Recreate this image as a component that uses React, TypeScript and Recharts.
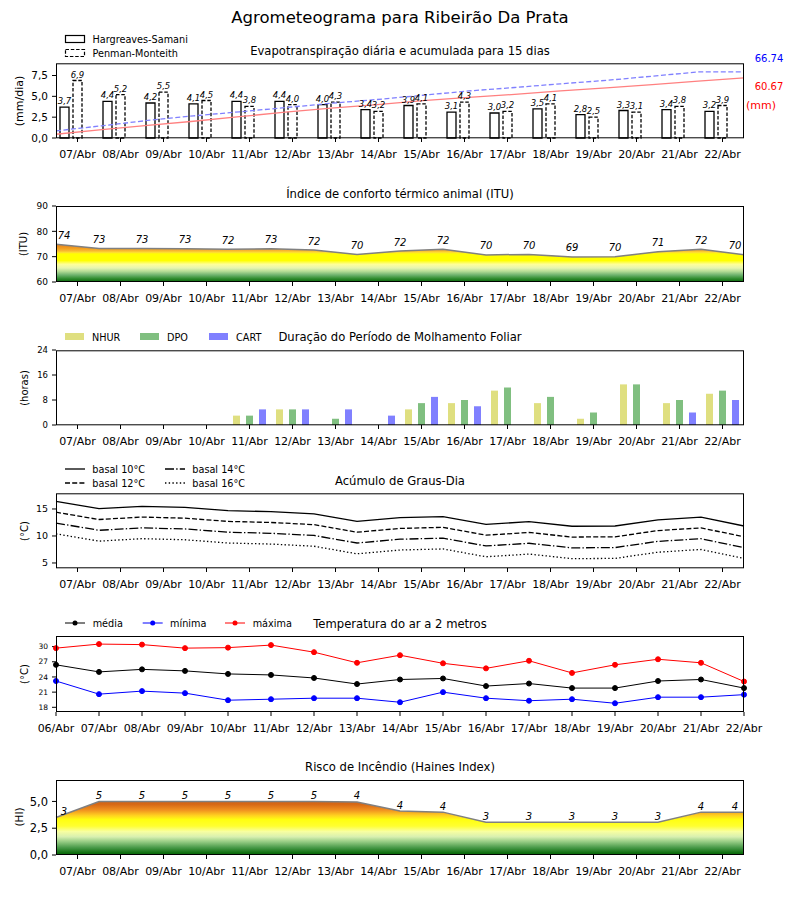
import { Area, Bar, ComposedChart, LabelList, Line, XAxis, YAxis } from "recharts"

const days = ["07/Abr", "08/Abr", "09/Abr", "10/Abr", "11/Abr", "12/Abr", "13/Abr", "14/Abr", "15/Abr", "16/Abr", "17/Abr", "18/Abr", "19/Abr", "20/Abr", "21/Abr", "22/Abr"]
const tempDays = ["06/Abr", ...days]

// evapotranspiração diária (mm/dia) e acumulada (mm)
const etHargreaves = [3.7, 4.4, 4.2, 4.1, 4.4, 4.4, 4.0, 3.4, 3.9, 3.1, 3.0, 3.5, 2.8, 3.3, 3.4, 3.2]
const etPenman = [6.9, 5.2, 5.5, 4.5, 3.8, 4.0, 4.3, 3.2, 4.1, 4.3, 3.2, 4.1, 2.5, 3.1, 3.8, 3.9]
const cumHargreaves = [3.8, 8.4, 12.7, 16.9, 21.5, 26.0, 30.1, 33.6, 37.7, 40.9, 44.0, 47.6, 50.5, 53.9, 57.4, 60.67]
const cumPenman = [7.2, 12.3, 17.7, 22.3, 26.4, 30.6, 35.0, 38.8, 43.1, 47.4, 50.9, 54.6, 58.1, 62.3, 66.6, 66.74]

// ITU, pontos nas divisas entre dias
const itu = [74.9, 73.2, 73.2, 73.1, 72.9, 73.1, 72.6, 70.9, 72.2, 72.9, 70.7, 70.9, 69.9, 70.0, 71.9, 72.9, 70.8]

// molhamento foliar (horas)
const nhur = [0, 0, 0, 0, 3, 5, 0, 0, 5, 7, 11, 7, 2, 13, 7, 10]
const dpo = [0, 0, 0, 0, 3, 5, 2, 0, 7, 8, 12, 9, 4, 13, 8, 11]
const cart = [0, 0, 0, 0, 5, 5, 5, 3, 9, 6, 0, 0, 0, 0, 4, 8]

// graus-dia
const basal10 = [16.4, 15.05, 15.5, 15.3, 14.7, 14.5, 14.1, 12.7, 13.4, 13.6, 12.15, 12.65, 11.8, 11.85, 13.0, 13.5, 11.85]
const basal12 = [14.4, 13.05, 13.5, 13.3, 12.7, 12.5, 12.1, 10.7, 11.4, 11.6, 10.15, 10.65, 9.8, 9.85, 11.0, 11.5, 9.85]
const basal14 = [12.4, 11.05, 11.5, 11.3, 10.7, 10.5, 10.1, 8.7, 9.4, 9.6, 8.15, 8.65, 7.8, 7.85, 9.0, 9.5, 7.85]
const basal16 = [10.4, 9.05, 9.5, 9.3, 8.7, 8.5, 8.1, 6.7, 7.4, 7.6, 6.15, 6.65, 5.8, 5.85, 7.0, 7.5, 5.85]

// temperatura do ar (°C)
const tMedia = [26.4, 25.0, 25.5, 25.2, 24.6, 24.4, 23.8, 22.6, 23.5, 23.7, 22.2, 22.7, 21.8, 21.8, 23.2, 23.5, 21.8]
const tMinima = [23.2, 20.6, 21.2, 20.8, 19.4, 19.6, 19.8, 19.8, 19.0, 21.0, 19.8, 19.3, 19.6, 18.8, 20.0, 20.0, 20.5]
const tMaxima = [29.7, 30.5, 30.4, 29.7, 29.8, 30.3, 28.9, 26.8, 28.3, 26.7, 25.7, 27.2, 24.8, 26.4, 27.5, 26.8, 23.1]

// Haines
const haines = [3.5, 5.0, 5.0, 5.0, 5.0, 5.0, 5.0, 4.95, 4.1, 4.0, 3.05, 3.05, 3.05, 3.05, 3.05, 4.0, 4.0]

const ituColors = [
  [76, "#d2641a"], [74.5, "#e8861c"], [73.2, "#f3a020"], [72.3, "#f8b830"], [71.6, "#ffe030"], [71.1, "#ffff00"],
  [68.5, "#ffff00"], [67, "#ffff99"], [65.5, "#e6f5b0"], [64.2, "#b4dc96"], [62.8, "#6fb36f"], [61.3, "#2e8b2e"], [60, "#0a640a"],
] as const
const hiColors = [
  [5.2, "#cc5a10"], [4.7, "#d86a16"], [4.2, "#f09020"], [3.7, "#ffd020"], [3.3, "#ffff10"], [2.7, "#ffff30"],
  [2.2, "#f8ffa0"], [1.7, "#d8f0b0"], [1.2, "#90c880"], [0.7, "#4a9a4a"], [0.2, "#107010"], [0, "#0a640a"],
] as const

const etRows = days.map((day, i) => ({ day, idx: i, hs: etHargreaves[i], pm: etPenman[i], hsCum: cumHargreaves[i], pmCum: cumPenman[i] }))
const ituRows = itu.map((v, i) => ({ x: i - 0.5, v }))
const wetRows = days.map((day, i) => ({ day, nhur: nhur[i], dpo: dpo[i], cart: cart[i] }))
const gdRows = basal10.map((v, i) => ({ x: i - 0.5, b10: v, b12: basal12[i], b14: basal14[i], b16: basal16[i] }))
const tempRows = tMedia.map((v, i) => ({ x: i, med: v, min: tMinima[i], max: tMaxima[i] }))
const hiRows = haines.map((v, i) => ({ x: i - 0.5, v }))

const PL = 56
const PW = 688
const MT = 10
const XH = 30
const margin = { top: MT, right: 56, bottom: 0, left: 6 }
const dayTicks = days.map((_, i) => i)
const tempTicks = tempDays.map((_, i) => i)

const comma = (v: number) => v.toFixed(1).replace(".", ",")
const xTick = { fill: "#000", fontSize: 11 }
const tl = { stroke: "#000" }
const subFs = 11.6

const barLabel = (props: any) => {
  const { x, y, width, value } = props
  return (
    <text x={x + width / 2} y={y - 3} textAnchor="middle" fontSize={8.5} fontStyle="italic" fill="#000">
      {comma(value)}
    </text>
  )
}

const pointLabel = (dy: number, fs: number) => (props: any) => {
  const { x, y, value } = props
  let dx = 0
  if (x < PL + 2) dx = 8
  if (x > PL + PW - 2) dx = -9
  return (
    <text x={x + dx} y={y - dy} textAnchor="middle" fontSize={fs} fontStyle="italic" fill="#000">
      {Math.floor(value + 1e-9)}
    </text>
  )
}

function gradStops(colors: readonly (readonly [number, string])[], lo: number, hi: number) {
  return colors.map(([v, c]) => <stop key={v} offset={(hi - v) / (hi - lo)} stopColor={c} />)
}

const box = (top: number, h: number) => (
  <rect x={PL + 0.5} y={top + 0.5} width={PW - 1} height={h - 1} fill="none" stroke="#000" strokeWidth={1} />
)

export default function App() {
  const wrap = (top: number) => ({ position: "absolute" as const, left: 0, top: top - MT })
  return (
    <div style={{ position: "absolute", left: 0, top: 0, width: 800, height: 900, background: "#fff", fontFamily: "DejaVu Sans" }}>
      {/* 1. evapotranspiração */}
      <div style={wrap(63.3)}>
        <ComposedChart width={800} height={MT + 75 + XH} data={etRows} margin={margin} barSize={9} barGap={4}>
          <XAxis xAxisId="cat" dataKey="day" interval={0} tick={xTick} tickLine={tl} axisLine={false} tickSize={4} tickMargin={8} height={XH} />
          <XAxis xAxisId="num" dataKey="idx" type="number" domain={[0, 15]} hide />
          <YAxis yAxisId="l" domain={[0, 9]} ticks={[0, 2.5, 5, 7.5]} interval={0} tickFormatter={comma} width={50} tick={{ fill: "#000", fontSize: 10.5 }} tickLine={tl} axisLine={false} tickSize={4} tickMargin={4} />
          <YAxis yAxisId="r" orientation="right" domain={[0, 75.6]} hide />
          <Bar xAxisId="cat" yAxisId="l" dataKey="hs" fill="#fff" stroke="#000" strokeWidth={1.3} isAnimationActive={false}>
            <LabelList dataKey="hs" content={barLabel} />
          </Bar>
          <Bar xAxisId="cat" yAxisId="l" dataKey="pm" fill="#fff" stroke="#000" strokeWidth={1.3} strokeDasharray="3.5 1.8" isAnimationActive={false}>
            <LabelList dataKey="pm" content={barLabel} />
          </Bar>
          <Bar xAxisId="cat" yAxisId="l" dataKey="gap" fill="none" isAnimationActive={false} />
          <Line xAxisId="num" yAxisId="r" dataKey="hsCum" type="linear" stroke="#ff8080" strokeWidth={1.3} dot={false} isAnimationActive={false} />
          <Line xAxisId="num" yAxisId="r" dataKey="pmCum" type="linear" stroke="#8080ff" strokeWidth={1.3} strokeDasharray="5 2.5" dot={false} isAnimationActive={false} />
        </ComposedChart>
      </div>

      {/* 2. ITU */}
      <div style={wrap(206)}>
        <ComposedChart width={800} height={MT + 76 + XH} data={ituRows} margin={margin}>
          <defs>
            <linearGradient id="ituGrad" gradientUnits="userSpaceOnUse" x1={0} y1={MT} x2={0} y2={MT + 76}>
              {gradStops(ituColors, 60, 90)}
            </linearGradient>
          </defs>
          <XAxis dataKey="x" type="number" domain={[-0.5, 15.5]} ticks={dayTicks} interval={0} tickFormatter={(v) => days[Math.round(v)]} tick={xTick} tickLine={tl} axisLine={false} tickSize={4} tickMargin={8} height={XH} />
          <YAxis domain={[60, 90]} ticks={[60, 70, 80, 90]} interval={0} width={50} tick={{ fill: "#000", fontSize: 9 }} tickLine={tl} axisLine={false} tickSize={4} tickMargin={4} />
          <Area dataKey="v" type="linear" baseValue={60} stroke="#808080" strokeWidth={1.5} fill="url(#ituGrad)" fillOpacity={1} isAnimationActive={false}>
            <LabelList dataKey="v" content={pointLabel(5.5, 10)} />
          </Area>
        </ComposedChart>
      </div>

      {/* 3. molhamento foliar */}
      <div style={wrap(350.3)}>
        <ComposedChart width={800} height={MT + 75 + XH} data={wetRows} margin={margin} barSize={7} barGap={6}>
          <XAxis dataKey="day" interval={0} tick={xTick} tickLine={tl} axisLine={false} tickSize={4} tickMargin={8} height={XH} />
          <YAxis domain={[0, 24]} ticks={[0, 8, 16, 24]} interval={0} width={50} tick={{ fill: "#000", fontSize: 8.5 }} tickLine={tl} axisLine={false} tickSize={4} tickMargin={4} />
          <Bar dataKey="nhur" fill="#dfdf80" isAnimationActive={false} />
          <Bar dataKey="dpo" fill="#80bf80" isAnimationActive={false} />
          <Bar dataKey="cart" fill="#8080ff" isAnimationActive={false} />
        </ComposedChart>
      </div>

      {/* 4. graus-dia */}
      <div style={wrap(493.3)}>
        <ComposedChart width={800} height={MT + 75 + XH} data={gdRows} margin={margin}>
          <XAxis dataKey="x" type="number" domain={[-0.5, 15.5]} ticks={dayTicks} interval={0} tickFormatter={(v) => days[Math.round(v)]} tick={xTick} tickLine={tl} axisLine={false} tickSize={4} tickMargin={8} height={XH} />
          <YAxis domain={[4.07, 17.96]} ticks={[5, 10, 15]} interval={0} width={50} tick={{ fill: "#000", fontSize: 9.5 }} tickLine={tl} axisLine={false} tickSize={4} tickMargin={4} />
          <Line dataKey="b10" type="linear" stroke="#000" strokeWidth={1.3} dot={false} isAnimationActive={false} />
          <Line dataKey="b12" type="linear" stroke="#000" strokeWidth={1.3} strokeDasharray="5 2.2" dot={false} isAnimationActive={false} />
          <Line dataKey="b14" type="linear" stroke="#000" strokeWidth={1.3} strokeDasharray="9 2.2 1.4 2.2" dot={false} isAnimationActive={false} />
          <Line dataKey="b16" type="linear" stroke="#000" strokeWidth={1.3} strokeDasharray="1.4 2.3" dot={false} isAnimationActive={false} />
        </ComposedChart>
      </div>

      {/* 5. temperatura */}
      <div style={wrap(636)}>
        <ComposedChart width={800} height={MT + 76 + XH} data={tempRows} margin={margin}>
          <XAxis dataKey="x" type="number" domain={[0, 16]} ticks={tempTicks} interval={0} tickFormatter={(v) => tempDays[Math.round(v)]} tick={xTick} tickLine={tl} axisLine={false} tickSize={4} tickMargin={8} height={XH} />
          <YAxis domain={[17.07, 32.1]} ticks={[18, 21, 24, 27, 30]} interval={0} width={50} tick={{ fill: "#000", fontSize: 7.5 }} tickLine={tl} axisLine={false} tickSize={4} tickMargin={4} />
          <Line dataKey="med" type="linear" stroke="#000" strokeWidth={1} dot={{ r: 2.5, fill: "#000", stroke: "#000" }} isAnimationActive={false} />
          <Line dataKey="min" type="linear" stroke="#0000ff" strokeWidth={1} dot={{ r: 2.5, fill: "#0000ff", stroke: "#0000ff" }} isAnimationActive={false} />
          <Line dataKey="max" type="linear" stroke="#ff0000" strokeWidth={1} dot={{ r: 2.5, fill: "#ff0000", stroke: "#ff0000" }} isAnimationActive={false} />
        </ComposedChart>
      </div>

      {/* 6. Haines */}
      <div style={wrap(780)}>
        <ComposedChart width={800} height={MT + 75 + XH} data={hiRows} margin={margin}>
          <defs>
            <linearGradient id="hiGrad" gradientUnits="userSpaceOnUse" x1={0} y1={MT} x2={0} y2={MT + 75}>
              {gradStops(hiColors, 0, 7)}
            </linearGradient>
          </defs>
          <XAxis dataKey="x" type="number" domain={[-0.5, 15.5]} ticks={dayTicks} interval={0} tickFormatter={(v) => days[Math.round(v)]} tick={xTick} tickLine={tl} axisLine={false} tickSize={4} tickMargin={8} height={XH} />
          <YAxis domain={[0, 7]} ticks={[0, 2.5, 5]} interval={0} tickFormatter={comma} width={50} tick={{ fill: "#000", fontSize: 11.5 }} tickLine={tl} axisLine={false} tickSize={4} tickMargin={4} />
          <Area dataKey="v" type="linear" baseValue={0} stroke="#808080" strokeWidth={1.5} fill="url(#hiGrad)" fillOpacity={1} isAnimationActive={false}>
            <LabelList dataKey="v" content={pointLabel(2.5, 10)} />
          </Area>
        </ComposedChart>
      </div>

      {/* textos, legendas e molduras */}
      <svg width={800} height={900} style={{ position: "absolute", left: 0, top: 0, pointerEvents: "none" }} fontFamily="DejaVu Sans">
        {box(63.3, 75)}
        {box(206, 76)}
        {box(350.3, 75)}
        {box(493.3, 75)}
        {box(636, 76)}
        {box(780, 75)}

        <text x={400} y={17} textAnchor="middle" dominantBaseline="central" fontSize={16.5}>Agrometeograma para Ribeirão Da Prata</text>

        <text x={400} y={51} textAnchor="middle" dominantBaseline="central" fontSize={subFs}>Evapotranspiração diária e acumulada para 15 dias</text>
        <text x={400} y={194} textAnchor="middle" dominantBaseline="central" fontSize={subFs}>Índice de conforto térmico animal (ITU)</text>
        <text x={400} y={337} textAnchor="middle" dominantBaseline="central" fontSize={subFs}>Duração do Período de Molhamento Foliar</text>
        <text x={400} y={481} textAnchor="middle" dominantBaseline="central" fontSize={subFs}>Acúmulo de Graus-Dia</text>
        <text x={400} y={624} textAnchor="middle" dominantBaseline="central" fontSize={subFs}>Temperatura do ar a 2 metros</text>
        <text x={400} y={767} textAnchor="middle" dominantBaseline="central" fontSize={subFs}>Risco de Incêndio (Haines Index)</text>

        <text transform="translate(19,101) rotate(-90)" textAnchor="middle" dominantBaseline="central" fontSize={11}>(mm/dia)</text>
        <text transform="translate(23.5,244) rotate(-90)" textAnchor="middle" dominantBaseline="central" fontSize={10}>(ITU)</text>
        <text transform="translate(24,388) rotate(-90)" textAnchor="middle" dominantBaseline="central" fontSize={10}>(horas)</text>
        <text transform="translate(24,531) rotate(-90)" textAnchor="middle" dominantBaseline="central" fontSize={10}>(°C)</text>
        <text transform="translate(24,674) rotate(-90)" textAnchor="middle" dominantBaseline="central" fontSize={10}>(°C)</text>
        <text transform="translate(19,817) rotate(-90)" textAnchor="middle" dominantBaseline="central" fontSize={10.5}>(HI)</text>

        <text x={769} y={58} textAnchor="middle" dominantBaseline="central" fontSize={10} fill="#0000ff">66.74</text>
        <text x={769} y={86} textAnchor="middle" dominantBaseline="central" fontSize={10} fill="#ff0000">60.67</text>
        <text x={761} y={105} textAnchor="middle" dominantBaseline="central" fontSize={11} fill="#ff0000">(mm)</text>

        {/* legenda evapotranspiração */}
        <rect x={65.5} y={35.5} width={19} height={7} fill="#fff" stroke="#000" strokeWidth={1.2} />
        <rect x={65.5} y={49.5} width={19} height={7} fill="#fff" stroke="#000" strokeWidth={1.2} strokeDasharray="3.5 1.8" />
        <text x={92.5} y={39} dominantBaseline="central" fontSize={9.7}>Hargreaves-Samani</text>
        <text x={92.5} y={53} dominantBaseline="central" fontSize={9.7}>Penman-Monteith</text>

        {/* legenda molhamento */}
        <rect x={65} y={333} width={19} height={7} fill="#dfdf80" />
        <rect x={140} y={333} width={19} height={7} fill="#80bf80" />
        <rect x={209} y={333} width={19} height={7} fill="#8080ff" />
        <text x={92} y={337} dominantBaseline="central" fontSize={9.7}>NHUR</text>
        <text x={167} y={337} dominantBaseline="central" fontSize={9.7}>DPO</text>
        <text x={236} y={337} dominantBaseline="central" fontSize={9.7}>CART</text>

        {/* legenda graus-dia */}
        <line x1={65} y1={469} x2={85} y2={469} stroke="#000" strokeWidth={1.3} />
        <line x1={65} y1={483} x2={85} y2={483} stroke="#000" strokeWidth={1.3} strokeDasharray="5 2.2" />
        <line x1={165} y1={469} x2={185} y2={469} stroke="#000" strokeWidth={1.3} strokeDasharray="9 2.2 1.4 2.2" />
        <line x1={165} y1={483} x2={185} y2={483} stroke="#000" strokeWidth={1.3} strokeDasharray="1.4 2.3" />
        <text x={92.3} y={469} dominantBaseline="central" fontSize={9.7}>basal 10°C</text>
        <text x={92.3} y={483} dominantBaseline="central" fontSize={9.7}>basal 12°C</text>
        <text x={192.3} y={469} dominantBaseline="central" fontSize={9.7}>basal 14°C</text>
        <text x={192.3} y={483} dominantBaseline="central" fontSize={9.7}>basal 16°C</text>

        {/* legenda temperatura */}
        <line x1={65} y1={623} x2={85} y2={623} stroke="#000" strokeWidth={1} />
        <circle cx={75} cy={623} r={2.5} fill="#000" />
        <line x1={142.7} y1={623} x2={162.7} y2={623} stroke="#0000ff" strokeWidth={1} />
        <circle cx={152.7} cy={623} r={2.5} fill="#0000ff" />
        <line x1={225} y1={623} x2={245} y2={623} stroke="#ff0000" strokeWidth={1} />
        <circle cx={235} cy={623} r={2.5} fill="#ff0000" />
        <text x={92.7} y={623} dominantBaseline="central" fontSize={9.7}>média</text>
        <text x={170} y={623} dominantBaseline="central" fontSize={9.7}>mínima</text>
        <text x={252.7} y={623} dominantBaseline="central" fontSize={9.7}>máxima</text>
      </svg>
    </div>
  )
}
